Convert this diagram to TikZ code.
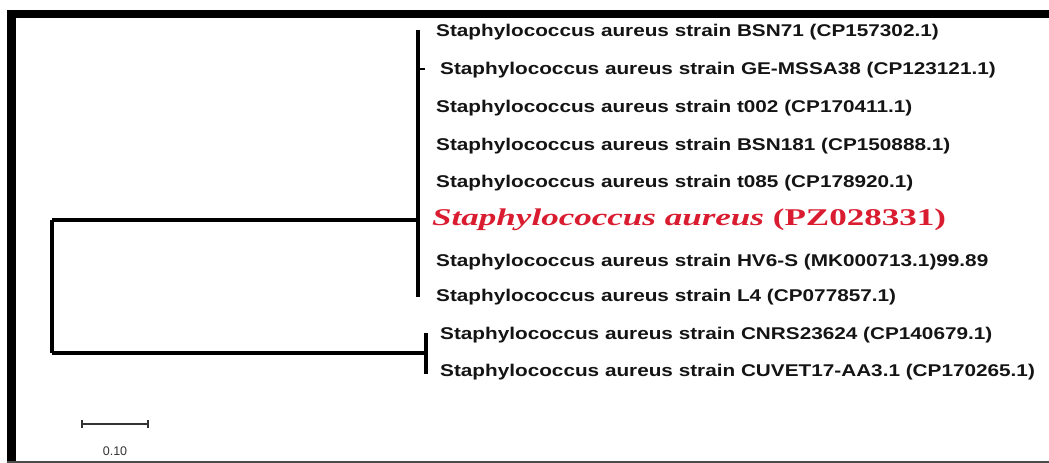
\documentclass[tikz,border=0pt]{standalone}
\usepackage{fontspec}
\newfontfamily\labfont[FakeStretch=1.22]{Liberation Sans}
\newfontfamily\redfont[FakeStretch=1.46]{Liberation Serif}
\newfontfamily\scalefont{Liberation Sans}
\definecolor{redlab}{RGB}{218,28,48}
\definecolor{ink}{RGB}{20,20,20}
\begin{document}
\begin{tikzpicture}[x=1bp,y=-1bp,
  leaf/.style={anchor=base west,inner sep=0pt,font=\labfont\bfseries\fontsize{17bp}{17bp}\selectfont,text=ink},
  qleaf/.style={anchor=base west,inner sep=0pt,font=\redfont\bfseries\fontsize{24bp}{24bp}\selectfont,text=redlab},
  branch/.style={line width=3.2bp,line cap=butt},
  thin/.style={line width=1.2bp}]
\useasboundingbox (0,0) rectangle (1049,463);
\fill[white] (0,0) rectangle (1049,463);
% frame
\fill[black] (7,10) rectangle (1049,18);
\fill[black] (7,10) rectangle (16,463);
\fill[black!70] (7,461) rectangle (1049,463);
% leaves
\node[leaf] (l1) at (436,37) {Staphylococcus aureus strain BSN71 (CP157302.1)};
\node[leaf] (l2) at (440,75) {Staphylococcus aureus strain GE-MSSA38 (CP123121.1)};
\node[leaf] (l3) at (436,113) {Staphylococcus aureus strain t002 (CP170411.1)};
\node[leaf] (l4) at (436,151) {Staphylococcus aureus strain BSN181 (CP150888.1)};
\node[leaf] (l5) at (436,188) {Staphylococcus aureus strain t085 (CP178920.1)};
\node[qleaf] (l6) at (432,226) {\itshape Staphylococcus aureus \upshape(PZ028331)};
\node[leaf] (l7) at (436,267) {Staphylococcus aureus strain HV6-S (MK000713.1)99.89};
\node[leaf] (l8) at (436,302) {Staphylococcus aureus strain L4 (CP077857.1)};
\node[leaf] (l9) at (440,340) {Staphylococcus aureus strain CNRS23624 (CP140679.1)};
\node[leaf] (l10) at (440,377) {Staphylococcus aureus strain CUVET17-AA3.1 (CP170265.1)};
% internal coordinates
\coordinate (rtop) at (52,220);
\coordinate (rbot) at (52,353);
\coordinate (c1) at (418,220);
\coordinate (c1top) at (418,30);
\coordinate (c1bot) at (418,297);
\coordinate (tick) at (418,69);
\coordinate (tickend) at (425,69);
\coordinate (c2) at (426,353);
\coordinate (c2top) at (426,333);
\coordinate (c2bot) at (426,374);
% tree
\draw[branch] (rtop) -- (rbot);
\draw[branch] (rtop) -- (c1);
\draw[branch] (rbot) -- (c2);
\draw[branch] (c1top) -- (c1bot);
\draw[branch] (c2top) -- (c2bot);
\draw[thin] (tick) -- (tickend);
% scale bar
\coordinate (sb1) at (82,424);
\coordinate (sb2) at (148,424);
\draw[line width=1.3bp,black!80] (sb1) -- (sb2);
\draw[line width=1.3bp,black!80] ([yshift=-4bp]sb1) -- ([yshift=4bp]sb1);
\draw[line width=1.3bp,black!80] ([yshift=-4bp]sb2) -- ([yshift=4bp]sb2);
\node[inner sep=0pt,font=\scalefont\fontsize{12.5bp}{12.5bp}\selectfont,text=black!80] (sbl) at (115,451) {0.10};
\end{tikzpicture}
\end{document}
